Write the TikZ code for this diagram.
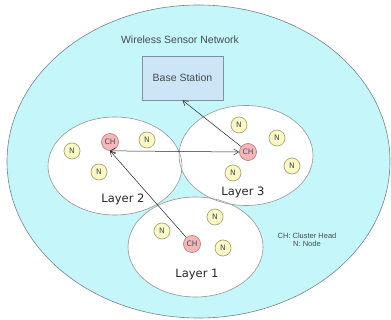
\documentclass[tikz,border=0pt]{standalone}
\usepackage{fontspec}
\setmainfont{Liberation Sans}
\newfontfamily\verd{DejaVu Sans}
\usetikzlibrary{arrows.meta}
\definecolor{wsnfill}{RGB}{196,246,250}
\definecolor{wsnline}{RGB}{120,130,135}
\definecolor{layline}{RGB}{150,150,150}
\definecolor{bsfill}{RGB}{204,230,248}
\definecolor{bsline}{RGB}{130,145,160}
\definecolor{nfill}{RGB}{250,248,196}
\definecolor{nline}{RGB}{170,165,120}
\definecolor{chfill}{RGB}{245,184,186}
\definecolor{chline}{RGB}{190,130,130}
\definecolor{txt}{RGB}{70,75,80}
\tikzset{
  x=1pt,y=-1pt,
  nnode/.style={circle,draw=nline,fill=nfill,line width=0.7pt,minimum size=16pt,inner sep=0pt,font=\verd\fontsize{7.5}{8}\selectfont,text=txt},
  chnode/.style={circle,draw=chline,fill=chfill,line width=0.7pt,minimum size=17pt,inner sep=0pt,font=\verd\fontsize{7.5}{8}\selectfont,text=txt},
  layerlbl/.style={font=\verd\fontsize{11.5}{13}\selectfont,text=black!85},
  arr/.style={-{Straight Barb[length=5pt,width=6pt]},line width=0.5pt,black!85},
}
\begin{document}
\begin{tikzpicture}
\useasboundingbox (0,0) rectangle (391,320);
% outer network
\draw[wsnline,fill=wsnfill,line width=0.6pt] (198.5,161.5) ellipse [x radius=191.5,y radius=156.5];
% layers
\fill[white] (115,166) ellipse [x radius=67,y radius=49];
\fill[white] (246,155.5) ellipse [x radius=67,y radius=50];
\fill[white] (195.5,247) ellipse [x radius=67.5,y radius=50];
\draw[layline,line width=0.6pt] (115,166) ellipse [x radius=67,y radius=49];
\draw[layline,line width=0.6pt] (246,155.5) ellipse [x radius=67,y radius=50];
\draw[layline,line width=0.6pt] (195.5,247) ellipse [x radius=67.5,y radius=50];
% texts
\node[font=\fontsize{10.5}{12}\selectfont,text=txt] (wsn) at (180,40) {Wireless Sensor Network};
\node[draw=bsline,fill=bsfill,line width=0.6pt,minimum width=81pt,minimum height=44pt,inner sep=0pt,font=\fontsize{10.5}{12}\selectfont,text=txt] (bs) at (182.5,78) {Base Station};
\node[layerlbl] (l2) at (123,199) {Layer 2};
\node[layerlbl] (l3) at (243,192) {Layer 3};
\node[layerlbl] (l1) at (197,275) {Layer 1};
\node[font=\fontsize{7.5}{8.5}\selectfont,text=txt,align=center] (leg) at (307,240) {CH: Cluster Head\\N: Node};
% layer 2
\node[chnode] (ch2) at (110,142) {CH};
\node[nnode] (n21) at (147,140) {N};
\node[nnode] (n22) at (72,151) {N};
\node[nnode] (n23) at (99,172) {N};
% layer 3
\node[chnode] (ch3) at (248,152) {CH};
\node[nnode] (n31) at (239,125) {N};
\node[nnode] (n32) at (277,138) {N};
\node[nnode] (n33) at (292,166) {N};
\node[nnode] (n34) at (233,173) {N};
% layer 1
\node[chnode] (ch1) at (192,244) {CH};
\node[nnode] (n11) at (215,217) {N};
\node[nnode] (n12) at (162,231) {N};
\node[nnode] (n13) at (223,248) {N};
% connectors
\draw[arr] (ch1) -- (ch2.south);
\draw[arr,{Straight Barb[length=5pt,width=6pt]}-{Straight Barb[length=5pt,width=6pt]}] (ch2.south) -- (ch3.west);
\draw[arr] (ch3) -- (bs.south);
\end{tikzpicture}
\end{document}
